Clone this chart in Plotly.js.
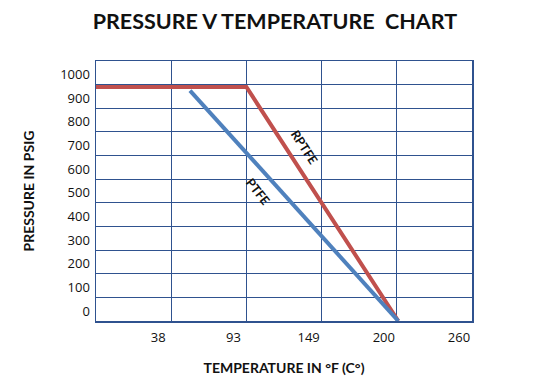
<!DOCTYPE html>
<html>
<head>
<meta charset="utf-8">
<script src="https://cdn.plot.ly/plotly-3.0.1.min.js"></script>
<style>html,body{margin:0;padding:0;background:#fff;}#chart{width:538px;height:384px;}</style>
</head>
<body>
<div id="chart"></div>
<script>
// Temperature in °F (axis), labelled in °C
const tempTickF = [100, 200, 300, 400, 500];
const tempTickC = ['38', '93', '149', '200', '260'];
const pressureTicks = [0, 100, 200, 300, 400, 500, 600, 700, 800, 900, 1000];

// RPTFE series
const rptfeTemp = [0, 200, 402];
const rptfePsig = [990, 990, 0];
// PTFE series
const ptfeTemp = [125, 402];
const ptfePsig = [975, 0];

const gridColor = '#2F528F';
const traces = [
  {x: rptfeTemp, y: rptfePsig, type: 'scatter', mode: 'lines', name: 'RPTFE',
   line: {color: '#C0504D', width: 4}, cliponaxis: false},
  {x: ptfeTemp, y: ptfePsig, type: 'scatter', mode: 'lines', name: 'PTFE',
   line: {color: '#4F81BD', width: 4}, cliponaxis: false}
];

const layout = {
  width: 538, height: 384,
  margin: {l: 96, r: 66, t: 61, b: 63},
  paper_bgcolor: '#fff', plot_bgcolor: '#fff',
  showlegend: false,
  font: {family: 'Open Sans, sans-serif', color: '#1a1a1a'},
  title: {text: '<b>PRESSURE V TEMPERATURE  CHART</b>', x: 0.511, xanchor: 'center', y: 0.943, yanchor: 'middle',
          font: {family: 'Lato, sans-serif', size: 21.5, color: '#111'}},
  xaxis: {
    range: [0, 500], tickvals: tempTickF, ticktext: tempTickC,
    showgrid: true, gridcolor: gridColor, gridwidth: 1,
    showline: true, linecolor: gridColor, linewidth: 1.5, mirror: true,
    zeroline: false, ticks: '', ticklabelshift: -13, ticklabelstandoff: 4,
    tickfont: {size: 13, color: '#111'},
    title: {text: '<b>TEMPERATURE IN °F (C°)</b>', standoff: 18, font: {family: 'Lato, sans-serif', size: 14, color: '#111'}},
    fixedrange: true
  },
  yaxis: {
    range: [0, 1100], tickvals: pressureTicks, ticktext: pressureTicks.map(String),
    showgrid: true, gridcolor: gridColor, gridwidth: 1,
    showline: true, linecolor: gridColor, linewidth: 1.5, mirror: true,
    zeroline: false, ticks: '', ticklabelshift: -10, ticklabelstandoff: 2,
    tickfont: {size: 13, color: '#111'},
    title: {text: '<b>PRESSURE IN PSIG</b>', standoff: 22, font: {family: 'Lato, sans-serif', size: 14, color: '#111'}},
    fixedrange: true
  },
  annotations: [
    {x: 277, y: 733, xref: 'x', yref: 'y', text: '<b>RPTFE</b>', showarrow: false, textangle: 57,
     font: {family: 'Lato, sans-serif', size: 12.5, color: '#111'}},
    {x: 215, y: 547, xref: 'x', yref: 'y', text: '<b>PTFE</b>', showarrow: false, textangle: 52,
     font: {family: 'Lato, sans-serif', size: 12.5, color: '#111'}}
  ]
};

Plotly.newPlot('chart', traces, layout, {displayModeBar: false, staticPlot: true});
</script>
</body>
</html>
